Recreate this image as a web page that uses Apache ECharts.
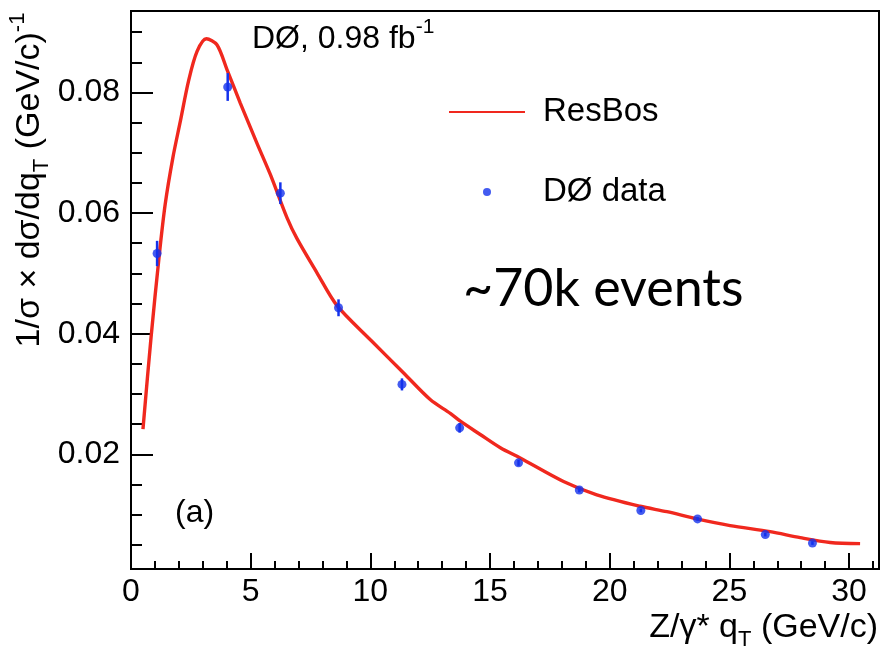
<!DOCTYPE html>
<html>
<head>
<meta charset="utf-8">
<script src="https://cdn.jsdelivr.net/npm/echarts@6/dist/echarts.min.js"></script>
<style>
html, body { margin: 0; padding: 0; background: #fff; }
#main { width: 882px; height: 649px; }
</style>
</head>
<body>
<div id="main"></div>
<script>
// ResBos prediction
var resbosX = [0.5, 0.84, 1.18, 1.43, 1.75, 2.06, 2.41, 2.76, 3.15, 3.59, 4.01, 4.57, 5.26, 5.82, 6.52, 6.93, 7.77, 8.6, 10.0, 11.39, 12.5, 13.34, 13.76, 14.59, 15.43, 16.26, 18.07, 19.46, 21.27, 22.39, 23.64, 25.03, 26.7, 27.96, 29.21, 30.46];
var resbosY = [0.0242, 0.0395, 0.0530, 0.0615, 0.0692, 0.0752, 0.0820, 0.0868, 0.0889, 0.0879, 0.0838, 0.0782, 0.0716, 0.0664, 0.0592, 0.0558, 0.0501, 0.0447, 0.0390, 0.0335, 0.0291, 0.0268, 0.0255, 0.0233, 0.0211, 0.0194, 0.0155, 0.0133, 0.0114, 0.0105, 0.0093, 0.0082, 0.0072, 0.0062, 0.0054, 0.0052];

// DØ data points with errors
var dataX = [1.09, 4.04, 6.24, 8.67, 11.32, 13.73, 16.19, 18.73, 21.30, 23.67, 26.5, 28.47];
var dataY = [0.0533, 0.0809, 0.0633, 0.0443, 0.0316, 0.0244, 0.0186, 0.0141, 0.0107, 0.0093, 0.0067, 0.0053];
var dataErr = [0.0021, 0.0023, 0.0018, 0.0014, 0.0010, 0.0008, 0.0005, 0.0004, 0.0003, 0.0003, 0.0003, 0.0003];

// axis ticks
var yMajorTicks = [0.02, 0.04, 0.06, 0.08];
var yMinorTicks = [0.005, 0.01, 0.015, 0.02, 0.025, 0.03, 0.035, 0.04, 0.045, 0.05, 0.055, 0.06, 0.065, 0.07, 0.075, 0.08, 0.085, 0.09];

var RED = '#f0281e';
var BLUE = '#1432ec';
var FONT = 'Liberation Sans';

var chart = echarts.init(document.getElementById('main'));

var xMin = 0, xMax = 31.25, yMin = 0.001, yMax = 0.0935;
var gridLeft = 131, gridRight = 3;
var plotWidth = 882 - gridLeft - gridRight;

// tick-only y axis: sits on the right, shifted back onto the left edge so its ticks point into the frame
function yTickAxis(values, len) {
    return {
        type: 'value', min: yMin, max: yMax, position: 'right', offset: -plotWidth,
        axisLine: { show: false, onZero: false },
        axisTick: { show: true, inside: false, length: len, customValues: values, lineStyle: { color: '#000', width: 2 } },
        axisLabel: { show: false },
        splitLine: { show: false }
    };
}

var option = {
    backgroundColor: '#fff',
    animation: false,
    textStyle: { fontFamily: FONT, color: '#000' },
    grid: {
        left: gridLeft, right: gridRight, top: 11, bottom: 80,
        show: true, borderColor: '#000', borderWidth: 2
    },
    legend: {
        data: [{ name: 'ResBos', itemStyle: { opacity: 0 } }, { name: 'DØ data' }],
        orient: 'vertical',
        left: 448, top: 94, padding: 0,
        itemWidth: 76, itemHeight: 8, itemGap: 44,
        textStyle: { fontFamily: FONT, fontSize: 33, color: '#000', lineHeight: 36, padding: [0, 0, 0, 13] }
    },
    xAxis: [{
        type: 'value', min: xMin, max: xMax, interval: 5, position: 'bottom',
        axisLine: { onZero: false, lineStyle: { color: '#000', width: 2 } },
        axisTick: { inside: true, length: 16, lineStyle: { color: '#000', width: 2 } },
        axisLabel: { fontFamily: FONT, fontSize: 32, color: '#000', margin: 7, showMaxLabel: false },
        splitLine: { show: false }
    }, {
        type: 'value', min: xMin, max: xMax, interval: 1, position: 'bottom',
        axisLine: { show: false, onZero: false },
        axisTick: { inside: true, length: 8, lineStyle: { color: '#000', width: 2 } },
        axisLabel: { show: false },
        splitLine: { show: false }
    }],
    yAxis: [{
        type: 'value', min: yMin, max: yMax, position: 'left',
        axisLine: { show: true, onZero: false, lineStyle: { color: '#000', width: 2 } },
        axisTick: { show: false },
        axisLabel: { fontFamily: FONT, fontSize: 32, color: '#000', margin: 11, customValues: yMajorTicks,
            formatter: function (v) { return v.toFixed(2); } },
        splitLine: { show: false }
    },
        yTickAxis(yMajorTicks, 22),
        yTickAxis(yMinorTicks, 11)
    ],
    graphic: [
        {
            type: 'text', x: 30, y: 180, rotation: Math.PI / 2,
            style: {
                text: '1/σ × dσ/dq{sub|T} (GeV/c){sup|-1}',
                font: '34px "Liberation Sans"', fill: '#000',
                align: 'center', verticalAlign: 'middle', lineHeight: 46,
                rich: {
                    sub: { fontSize: 22, fontFamily: FONT, verticalAlign: 'bottom', lineHeight: 46 },
                    sup: { fontSize: 22, fontFamily: FONT, verticalAlign: 'top', lineHeight: 46 }
                }
            }
        },
        {
            type: 'text', x: 878, y: 628,
            style: {
                text: 'Z/γ* q{sub|T} (GeV/c)',
                font: '34px "Liberation Sans"', fill: '#000',
                align: 'right', verticalAlign: 'middle', lineHeight: 46,
                rich: {
                    sub: { fontSize: 22, fontFamily: FONT, verticalAlign: 'bottom', lineHeight: 46 }
                }
            }
        },
        {
            type: 'text', x: 252, y: 39,
            style: {
                text: 'DØ, 0.98 fb{sup|-1}',
                font: '32px "Liberation Sans"', fill: '#000',
                align: 'left', verticalAlign: 'middle', lineHeight: 44,
                rich: {
                    sup: { fontSize: 21, fontFamily: FONT, verticalAlign: 'top', lineHeight: 44 }
                }
            }
        },
        {
            type: 'text', x: 175, y: 513,
            style: { text: '(a)', font: '32px "Liberation Sans"', fill: '#000', align: 'left', verticalAlign: 'middle' }
        },
        {
            type: 'text', x: 463, y: 289,
            style: { text: '~70k events', font: '52px Lato', fill: '#000', align: 'left', verticalAlign: 'middle' }
        }
    ],
    series: [
        {
            name: 'ResBos', type: 'line',
            data: resbosX.map(function (x, i) { return [x, resbosY[i]]; }),
            smooth: 0.3, showSymbol: false, symbol: 'none',
            lineStyle: { color: RED, width: 3.4 }, itemStyle: { color: RED },
            z: 3
        },
        {
            name: 'DØ errors', type: 'custom',
            data: dataX.map(function (x, i) { return [x, dataY[i] - dataErr[i], dataY[i] + dataErr[i]]; }),
            encode: { x: 0, y: [1, 2] },
            renderItem: function (params, api) {
                var lo = api.coord([api.value(0), api.value(1)]);
                var hi = api.coord([api.value(0), api.value(2)]);
                return {
                    type: 'line',
                    shape: { x1: lo[0], y1: lo[1], x2: hi[0], y2: hi[1] },
                    style: { stroke: BLUE, lineWidth: 2.5 }
                };
            },
            z: 4
        },
        {
            name: 'DØ data', type: 'scatter',
            data: dataX.map(function (x, i) { return [x, dataY[i]]; }),
            symbol: 'circle', symbolSize: 9,
            itemStyle: { color: BLUE },
            z: 5
        }
    ]
};

chart.setOption(option);
</script>
</body>
</html>
